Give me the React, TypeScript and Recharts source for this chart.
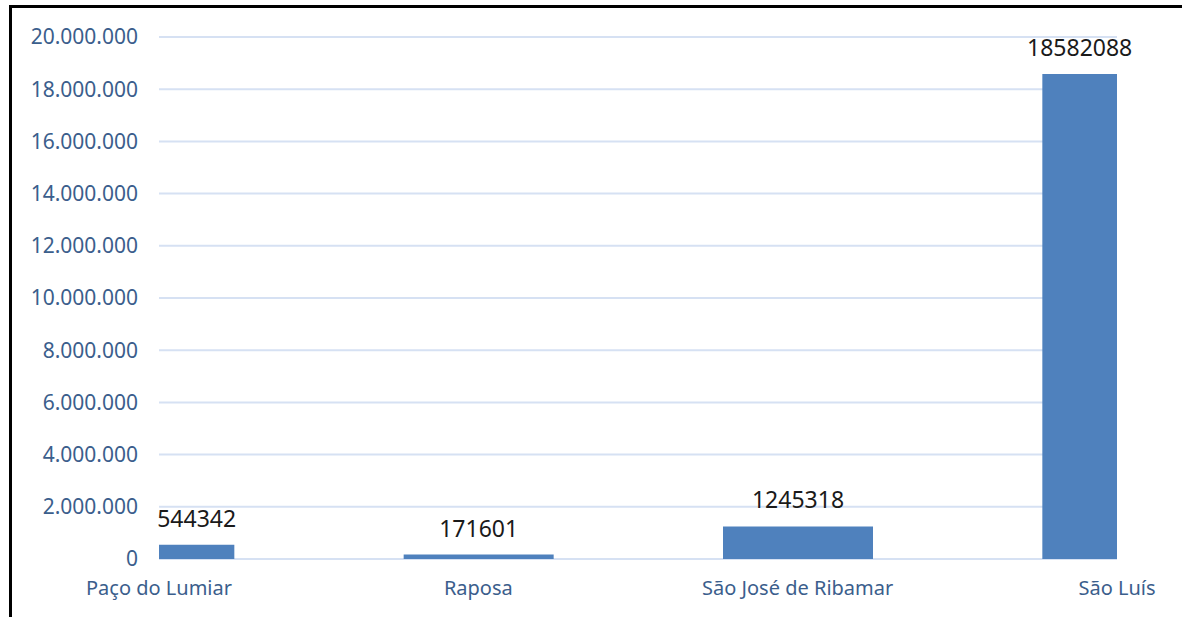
import React from "react";
import { BarChart, Bar, XAxis, YAxis, CartesianGrid, LabelList } from "recharts";

const categories = ["Paço do Lumiar", "Raposa", "São José de Ribamar", "São Luís"];
const values = [544342, 171601, 1245318, 18582088];
const yTicks = [0, 2000000, 4000000, 6000000, 8000000, 10000000, 12000000, 14000000, 16000000, 18000000, 20000000];

const data = categories.map((name, i) => ({ pos: i, name, value: values[i] }));

const WIDTH = 1182;
const HEIGHT = 617;
const margin = { top: 37, right: 65, bottom: 18, left: 0 };
const Y_AXIS_W = 159;
const PLOT_LEFT = margin.left + Y_AXIS_W;
const PLOT_RIGHT = WIDTH - margin.right;

const FONT = "'Noto Sans', 'Open Sans', sans-serif";
const AXIS_COLOR = "#3b5e8c";

const fmt = (v: number) => String(Math.round(v)).replace(/\B(?=(\d{3})+(?!\d))/g, ".");

function BarValueLabel(props: any) {
  const vb = props.viewBox || props;
  const x = Number(vb.x ?? props.x);
  const y = Number(vb.y ?? props.y);
  const w = Number(vb.width ?? props.width);
  // keep the label over the visible (clipped) part of the bar
  const left = Math.max(x, PLOT_LEFT);
  const right = Math.min(x + w, PLOT_RIGHT);
  const cx = (left + right) / 2;
  return (
    <text x={cx} y={y - 18} textAnchor="middle" fill="#1a1a1a" fontSize={23} fontFamily={FONT}>
      {props.value}
    </text>
  );
}

export default function App() {
  return (
    <div style={{ position: "absolute", left: 0, top: 0, width: WIDTH, height: HEIGHT, background: "#fff" }}>
      <div
        style={{
          position: "absolute",
          left: 9,
          top: 5,
          width: WIDTH - 9,
          height: HEIGHT - 5,
          borderTop: "3px solid #000",
          borderLeft: "3px solid #000",
          boxSizing: "border-box",
        }}
      />
      <div style={{ position: "absolute", left: 0, top: 0 }}>
        <BarChart width={WIDTH} height={HEIGHT} data={data} margin={margin} style={{ fontFamily: FONT }}>
          <CartesianGrid horizontal vertical={false} stroke="#d6e1f3" strokeWidth={2} />
          <XAxis
            dataKey="pos"
            type="number"
            domain={[0, 3]}
            allowDataOverflow
            ticks={[0, 1, 2, 3]}
            interval={0}
            tickFormatter={(i: number) => categories[i] ?? ""}
            tick={{ fontSize: 20, fill: AXIS_COLOR, fontFamily: FONT }}
            tickLine={false}
            axisLine={false}
            tickSize={0}
            tickMargin={22}
            height={40}
          />
          <YAxis
            type="number"
            domain={[0, 20000000]}
            ticks={yTicks}
            interval={0}
            tickFormatter={fmt}
            tick={{ fontSize: 21, fill: AXIS_COLOR, fontFamily: FONT }}
            tickLine={false}
            axisLine={false}
            tickSize={0}
            tickMargin={21}
            width={Y_AXIS_W}
          />
          <Bar dataKey="value" fill="#4f81bd" barSize={150} isAnimationActive={false}>
            <LabelList dataKey="value" content={BarValueLabel} />
          </Bar>
        </BarChart>
      </div>
    </div>
  );
}
